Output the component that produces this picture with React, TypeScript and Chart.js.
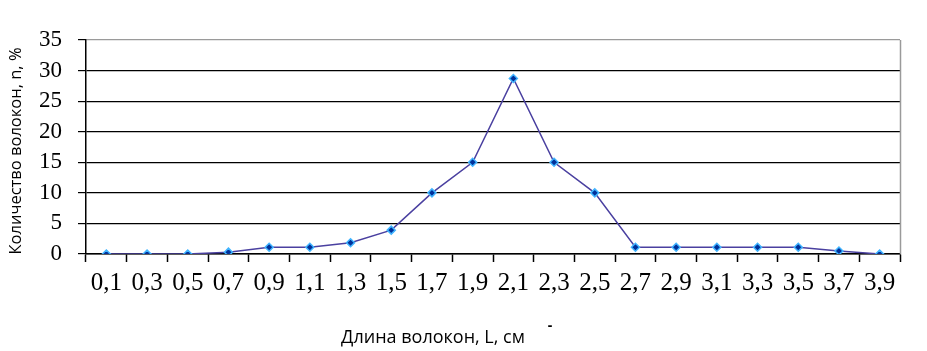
import { useEffect, useRef } from "react";
import { Chart, registerables } from "chart.js";

Chart.register(...registerables);

const categories = ["0,1", "0,3", "0,5", "0,7", "0,9", "1,1", "1,3", "1,5", "1,7", "1,9", "2,1", "2,3", "2,5", "2,7", "2,9", "3,1", "3,3", "3,5", "3,7", "3,9"];
const fiberShare = [0, 0, 0, 0.3, 1.1, 1.1, 1.85, 3.9, 10, 15, 28.7, 15, 10, 1.1, 1.1, 1.1, 1.1, 1.1, 0.5, 0];
const yMin = 0;
const yMax = 35;
const yStep = 5;
const xTitle = "Длина волокон, L, см";
const yTitle = "Количество волокон, n, %";

const titlesPlugin = {
  id: "titlesPlugin",
  afterDraw(chart: any) {
    const { ctx, chartArea } = chart;
    ctx.save();
    ctx.strokeStyle = "#9a9a9a";
    ctx.lineWidth = 1.5;
    ctx.beginPath();
    ctx.moveTo(chartArea.right + 0.5, chartArea.top);
    ctx.lineTo(chartArea.right + 0.5, chartArea.bottom);
    ctx.stroke();

    ctx.fillStyle = "#000";
    ctx.textAlign = "center";
    ctx.textBaseline = "middle";
    ctx.font = "18px 'Open Sans'";
    ctx.fillText(xTitle, 433, 338);
    ctx.font = "bold 14px 'Open Sans'";
    ctx.fillText("-", 550, 326);

    ctx.font = "16.5px 'Open Sans'";
    ctx.translate(16, 151);
    ctx.rotate(-Math.PI / 2);
    ctx.fillText(yTitle, 0, 0);
    ctx.restore();
  },
};

export default function App() {
  const ref = useRef<HTMLCanvasElement>(null);
  useEffect(() => {
    if (!ref.current) return;
    const chart = new Chart(ref.current, {
      type: "line",
      data: {
        labels: categories,
        datasets: [
          {
            data: fiberShare,
            borderColor: "#4a40a0",
            borderWidth: 1.5,
            pointStyle: "rectRot",
            pointRadius: 4,
            pointBackgroundColor: "#00309a",
            pointBorderColor: "#40b4ff",
            pointBorderWidth: 1.5,
            tension: 0,
          },
        ],
      },
      options: {
        animation: false,
        responsive: false,
        layout: { padding: { left: 0, right: 27, top: 40, bottom: 0 } },
        plugins: { legend: { display: false }, tooltip: { enabled: false } },
        scales: {
          x: {
            offset: true,
            grid: {
              offset: true,
              drawOnChartArea: false,
              drawTicks: true,
              tickLength: 8,
              tickColor: "#000",
              tickWidth: 1.5,
            },
            border: { display: true, color: "#000", width: 1.5 },
            ticks: {
              color: "#000",
              padding: 6,
              maxRotation: 0,
              autoSkip: false,
              font: { family: "'Liberation Serif'", size: 25 },
            },
            afterFit(scale: any) {
              scale.height = 97;
            },
          },
          y: {
            min: yMin,
            max: yMax,
            grid: {
              color: (c: any) => (c.tick && c.tick.value === yMax ? "#9a9a9a" : "#000"),
              lineWidth: 1.2,
              tickLength: 8,
              tickColor: "#000",
              tickWidth: 1.2,
            },
            border: { display: true, color: "#000", width: 1.5 },
            ticks: {
              stepSize: yStep,
              autoSkip: false,
              color: "#000",
              padding: 16,
              font: { family: "'Liberation Serif'", size: 23 },
            },
            afterFit(scale: any) {
              scale.width = 86;
            },
          },
        },
      },
      plugins: [titlesPlugin],
    });
    return () => chart.destroy();
  }, []);
  return (
    <div style={{ position: "absolute", left: 0, top: 0, width: 927, height: 351 }}>
      <canvas ref={ref} width={927} height={351} style={{ width: 927, height: 351 }} />
    </div>
  );
}
